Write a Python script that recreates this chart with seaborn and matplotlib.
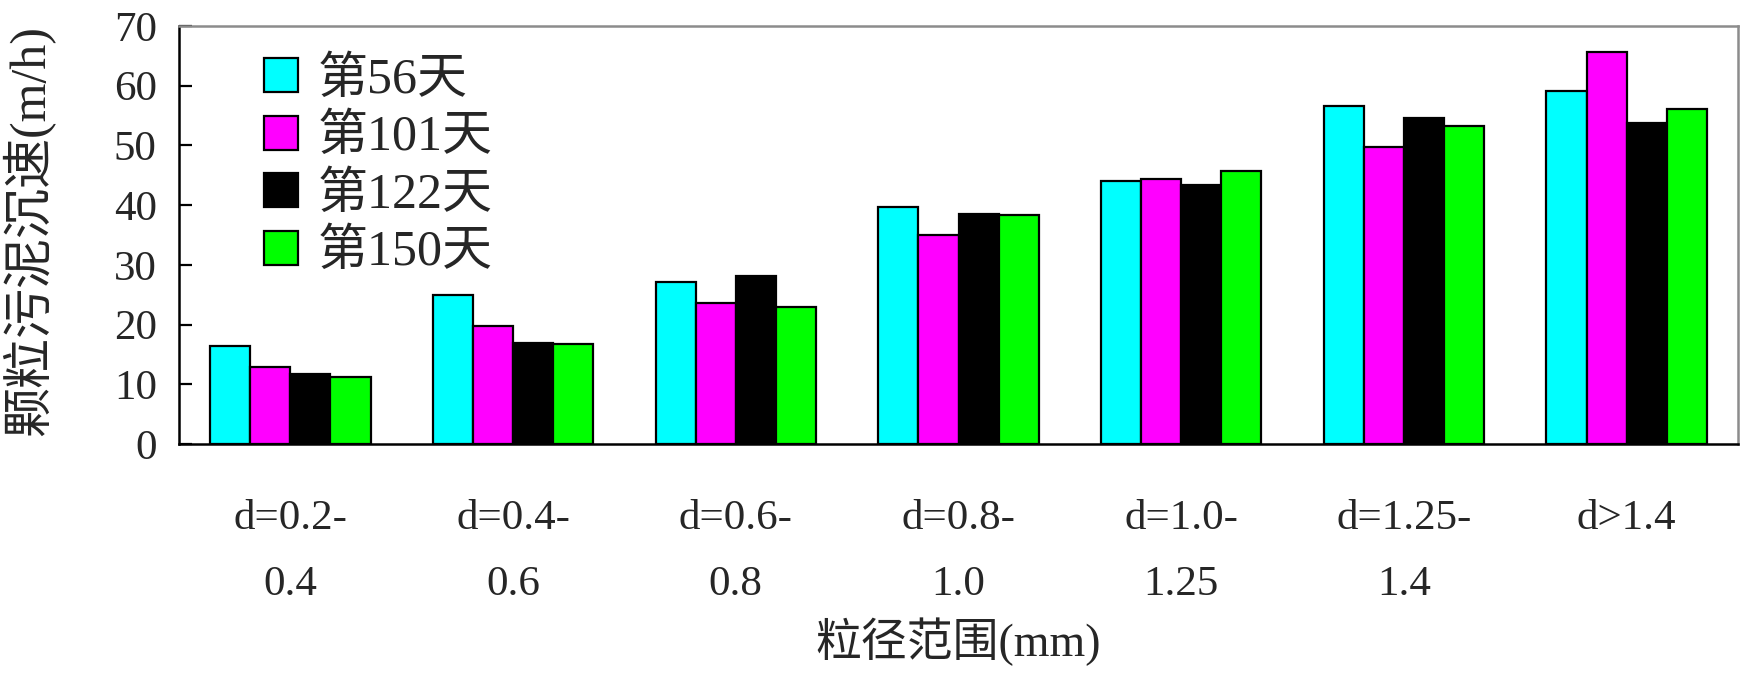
import matplotlib
matplotlib.use("Agg")
import matplotlib.pyplot as plt
import seaborn as sns
import pandas as pd
from matplotlib.ticker import FixedLocator

# Particle-size classes (x-axis categories)
size_ranges = ["d=0.2-\n0.4", "d=0.4-\n0.6", "d=0.6-\n0.8", "d=0.8-\n1.0",
               "d=1.0-\n1.25", "d=1.25-\n1.4", "d>1.4"]

# Sampling days (legend series)
days = ["第56天", "第101天", "第122天", "第150天"]

# Settling velocity (m/h) for each size class, one list per sampling day
day56 = [16.4, 25.0, 27.2, 39.7, 44.1, 56.6, 59.2]
day101 = [12.9, 19.8, 23.7, 35.0, 44.4, 49.7, 65.7]
day122 = [11.8, 16.9, 28.1, 38.5, 43.4, 54.6, 53.8]
day150 = [11.3, 16.8, 22.9, 38.4, 45.8, 53.2, 56.1]

y_ticks = [0, 10, 20, 30, 40, 50, 60, 70]

colors = ["#00FFFF", "#FF00FF", "#000000", "#00FF00"]

series = [day56, day101, day122, day150]
rows = []
for day, vals in zip(days, series):
    for rng, v in zip(size_ranges, vals):
        rows.append({"range": rng, "day": day, "speed": v})
df = pd.DataFrame(rows)

sns.set_style("white")
plt.rcParams["font.family"] = ["Liberation Serif", "Noto Sans CJK SC"]
plt.rcParams["axes.unicode_minus"] = False

fig = plt.figure(figsize=(17.41, 6.74), dpi=100)
ax = fig.add_axes([0.1028, 0.3412, 0.8955, 0.6202])

sns.barplot(data=df, x="range", y="speed", hue="day", order=size_ranges,
            hue_order=days, palette=colors, saturation=1, width=0.72,
            edgecolor="black", linewidth=1.6, ax=ax, legend=False)

ax.set_xlim(-0.5, len(size_ranges) - 0.5)
ax.set_ylim(0, 70)
ax.set_yticks(y_ticks)
ax.set_yticklabels([str(t) for t in y_ticks], fontsize=31)

# category labels without tick marks; short inward ticks at group boundaries
ax.tick_params(axis="x", which="major", length=0, pad=40, labelsize=31)
for lab in ax.get_xticklabels():
    lab.set_linespacing(1.93)
ax.xaxis.set_minor_locator(FixedLocator([i - 0.5 for i in range(len(size_ranges) + 1)]))
ax.tick_params(axis="x", which="minor", direction="in", length=10, width=1.6,
               color="black")
ax.tick_params(axis="y", direction="in", length=9.5, width=1.6, pad=16,
               color="black", left=True)

for side in ["left", "bottom"]:
    ax.spines[side].set_color("black")
    ax.spines[side].set_linewidth(1.8)
for side in ["top", "right"]:
    ax.spines[side].set_color("#8c8c8c")
    ax.spines[side].set_linewidth(1.8)

ax.set_xlabel("粒径范围(mm)", fontsize=33)
ax.xaxis.label.set_va("center")
ax.xaxis.set_label_coords(0.5, -0.474)
ax.set_ylabel("颗粒污泥沉速(m/h)", fontsize=36)
ax.yaxis.label.set_va("center")
ax.yaxis.set_label_coords(-0.096, 0.51)

handles = [plt.Rectangle((0, 0), 1, 1, facecolor=c, edgecolor="black",
                         linewidth=1.6) for c in colors]
ax.legend(handles, days, loc="upper left", bbox_to_anchor=(0.0545, 0.925),
          frameon=False, fontsize=36, borderpad=0, borderaxespad=0,
          handlelength=0.68, handleheight=0.66, handletextpad=0.4,
          labelspacing=0.22)

fig.savefig("out.png", dpi=100)
